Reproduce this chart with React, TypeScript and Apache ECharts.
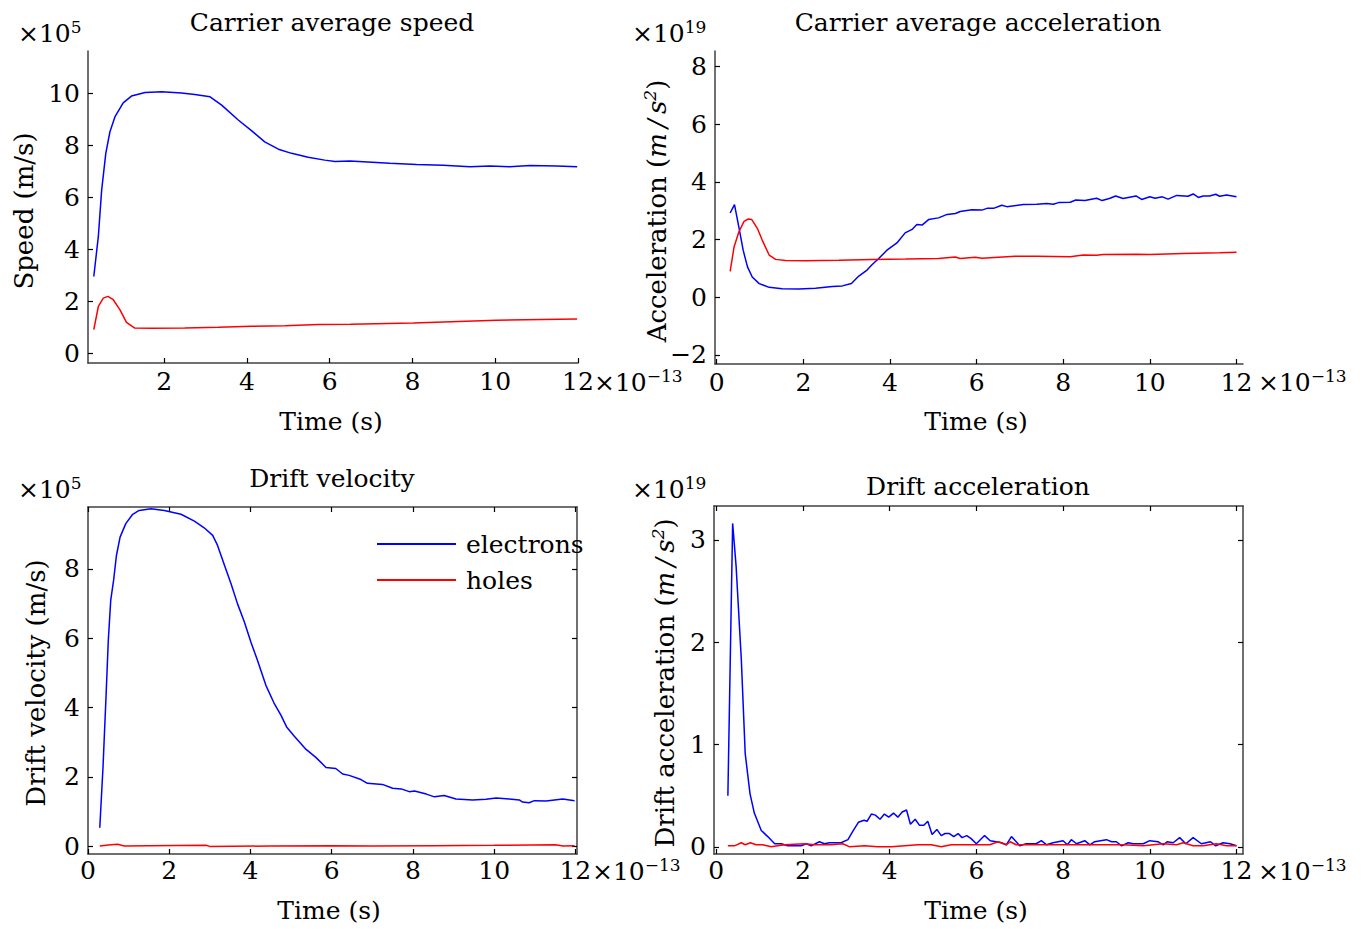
import React, { useEffect, useRef } from "react";
import * as echarts from "echarts";

// ---- Data (time in units of 1e-13 s) ----
const speedElecT = [0.30, 0.41, 0.49, 0.59, 0.69, 0.81, 1.01, 1.21, 1.54, 1.94, 2.42, 2.74, 3.11, 3.39, 3.79, 4.11, 4.43, 4.76, 5.08, 5.48, 5.88, 6.13, 6.49, 7.45, 8.10, 8.74, 9.39, 9.87, 10.35, 10.84, 11.48, 11.98];
const speedElecV = [2.96, 4.50, 6.28, 7.69, 8.52, 9.09, 9.63, 9.89, 10.03, 10.06, 10.01, 9.95, 9.86, 9.54, 8.97, 8.56, 8.13, 7.85, 7.69, 7.54, 7.43, 7.38, 7.40, 7.31, 7.26, 7.23, 7.18, 7.20, 7.18, 7.22, 7.20, 7.18];
const speedHoleT = [0.30, 0.41, 0.53, 0.64, 0.77, 0.93, 1.09, 1.29, 1.70, 2.50, 3.31, 4.11, 4.92, 5.72, 6.50, 8.02, 10.03, 11.98];
const speedHoleV = [0.92, 1.81, 2.13, 2.20, 2.07, 1.69, 1.20, 0.98, 0.97, 0.98, 1.01, 1.05, 1.07, 1.12, 1.13, 1.18, 1.28, 1.33];

const accElecT = [0.31, 0.41, 0.51, 0.61, 0.71, 0.82, 0.98, 1.21, 1.51, 1.90, 2.28, 2.67, 2.90, 3.11, 3.28, 3.47, 3.59, 3.74, 3.93, 4.16, 4.35, 4.51, 4.62, 4.74, 4.89, 5.12, 5.32, 5.51, 5.62, 5.89, 6.12, 6.24, 6.39, 6.58, 6.70, 7.08, 7.39, 7.62, 7.77, 7.89, 8.16, 8.29, 8.50, 8.77, 8.90, 9.08, 9.21, 9.38, 9.68, 9.81, 10.00, 10.12, 10.29, 10.42, 10.62, 10.88, 11.00, 11.12, 11.23, 11.38, 11.52, 11.61, 11.77, 12.00];
const accElecV = [2.92, 3.21, 2.44, 1.63, 1.05, 0.70, 0.47, 0.34, 0.29, 0.28, 0.31, 0.37, 0.39, 0.47, 0.73, 0.94, 1.13, 1.34, 1.63, 1.88, 2.23, 2.35, 2.52, 2.50, 2.69, 2.75, 2.87, 2.90, 2.97, 3.03, 3.02, 3.08, 3.08, 3.19, 3.14, 3.21, 3.22, 3.25, 3.22, 3.28, 3.29, 3.37, 3.35, 3.43, 3.35, 3.43, 3.51, 3.42, 3.51, 3.39, 3.48, 3.43, 3.48, 3.40, 3.53, 3.50, 3.58, 3.46, 3.51, 3.51, 3.57, 3.50, 3.54, 3.48];
const accHoleT = [0.31, 0.40, 0.51, 0.63, 0.73, 0.81, 0.94, 1.05, 1.21, 1.36, 1.59, 2.05, 2.82, 3.59, 4.36, 5.12, 5.51, 5.62, 5.97, 6.12, 6.89, 7.39, 8.16, 8.46, 8.77, 8.92, 9.69, 10.00, 10.77, 11.61, 12.00];
const accHoleV = [0.89, 1.74, 2.26, 2.63, 2.71, 2.69, 2.38, 1.98, 1.46, 1.31, 1.27, 1.26, 1.28, 1.31, 1.32, 1.34, 1.39, 1.34, 1.38, 1.35, 1.42, 1.42, 1.40, 1.46, 1.45, 1.48, 1.49, 1.48, 1.51, 1.54, 1.56];

const dvElecT = [0.29, 0.37, 0.44, 0.50, 0.56, 0.63, 0.70, 0.79, 0.93, 1.10, 1.26, 1.55, 1.88, 2.29, 2.62, 2.86, 3.07, 3.19, 3.36, 3.52, 3.68, 3.85, 4.01, 4.17, 4.38, 4.58, 4.75, 4.89, 5.08, 5.37, 5.61, 5.86, 6.10, 6.27, 6.43, 6.72, 6.88, 7.25, 7.50, 7.71, 7.91, 8.04, 8.33, 8.53, 8.77, 9.06, 9.47, 9.80, 10.05, 10.37, 10.62, 10.70, 10.86, 10.99, 11.28, 11.69, 11.98];
const dvElecV = [0.53, 2.29, 4.21, 5.94, 7.10, 7.67, 8.39, 8.92, 9.31, 9.58, 9.69, 9.74, 9.69, 9.58, 9.38, 9.19, 8.97, 8.68, 8.11, 7.58, 7.00, 6.47, 5.89, 5.37, 4.64, 4.13, 3.78, 3.44, 3.17, 2.79, 2.56, 2.27, 2.24, 2.08, 2.04, 1.92, 1.81, 1.78, 1.67, 1.65, 1.57, 1.59, 1.50, 1.42, 1.46, 1.36, 1.33, 1.35, 1.39, 1.36, 1.33, 1.27, 1.25, 1.31, 1.30, 1.36, 1.31];
const dvHoleT = [0.29, 0.50, 0.73, 0.89, 1.50, 2.90, 3.00, 4.50, 6.00, 7.00, 8.50, 10.00, 11.50, 11.70, 11.98];
const dvHoleV = [0.00, 0.03, 0.05, 0.00, 0.01, 0.02, -0.01, 0.00, 0.01, 0.00, 0.01, 0.02, 0.04, 0.00, 0.01];

const daElecT = [0.27, 0.38, 0.46, 0.58, 0.67, 0.78, 0.88, 1.04, 1.19, 1.35, 1.50, 1.65, 1.96, 2.08, 2.19, 2.38, 2.50, 2.61, 2.88, 3.04, 3.15, 3.28, 3.41, 3.48, 3.58, 3.67, 3.78, 3.88, 3.98, 4.09, 4.19, 4.29, 4.39, 4.48, 4.59, 4.69, 4.79, 4.88, 4.98, 5.09, 5.19, 5.28, 5.38, 5.48, 5.58, 5.67, 5.78, 5.88, 6.00, 6.19, 6.32, 6.46, 6.58, 6.69, 6.81, 6.92, 7.00, 7.15, 7.38, 7.50, 7.62, 7.77, 8.00, 8.10, 8.19, 8.31, 8.50, 8.62, 8.73, 9.00, 9.12, 9.23, 9.35, 9.50, 9.62, 9.85, 10.00, 10.19, 10.31, 10.40, 10.54, 10.69, 10.83, 11.00, 11.19, 11.40, 11.52, 11.69, 11.85, 12.00];
const daElecV = [0.50, 3.16, 2.74, 1.83, 0.91, 0.52, 0.33, 0.16, 0.10, 0.03, 0.03, 0.01, 0.01, 0.03, 0.01, 0.05, 0.03, 0.04, 0.04, 0.07, 0.15, 0.24, 0.26, 0.25, 0.32, 0.31, 0.27, 0.32, 0.29, 0.33, 0.29, 0.34, 0.36, 0.22, 0.27, 0.21, 0.21, 0.25, 0.12, 0.17, 0.11, 0.13, 0.13, 0.10, 0.13, 0.09, 0.11, 0.08, 0.03, 0.11, 0.06, 0.05, 0.04, 0.02, 0.10, 0.05, 0.01, 0.03, 0.03, 0.06, 0.02, 0.04, 0.06, 0.02, 0.07, 0.03, 0.06, 0.02, 0.05, 0.07, 0.05, 0.05, 0.01, 0.04, 0.03, 0.03, 0.06, 0.05, 0.02, 0.05, 0.04, 0.09, 0.03, 0.09, 0.03, 0.05, 0.01, 0.04, 0.03, 0.01];
const daHoleT = [0.27, 0.42, 0.58, 0.67, 0.79, 0.92, 1.07, 1.27, 1.42, 1.58, 2.04, 2.27, 2.65, 2.92, 3.08, 3.42, 3.73, 4.04, 4.35, 4.65, 4.96, 5.19, 5.42, 5.73, 6.00, 6.31, 6.50, 6.69, 6.78, 6.92, 7.38, 7.85, 8.31, 8.62, 9.08, 9.38, 9.85, 10.31, 10.62, 10.77, 11.00, 11.23, 11.54, 11.77, 12.00];
const daHoleV = [0.01, 0.01, 0.04, 0.02, 0.04, 0.02, 0.02, 0.00, 0.01, 0.02, 0.03, 0.02, 0.02, 0.03, 0.00, 0.01, 0.00, 0.00, 0.01, 0.02, 0.02, 0.00, 0.02, 0.02, 0.02, 0.02, 0.05, 0.02, 0.05, 0.02, 0.02, 0.02, 0.02, 0.02, 0.02, 0.02, 0.01, 0.03, 0.02, 0.04, 0.01, 0.01, 0.03, 0.01, 0.01];

const seriesNames = ["electrons", "holes"];
const titles = ["Carrier average speed", "Carrier average acceleration", "Drift velocity", "Drift acceleration"];

const timeTicksA = [2, 4, 6, 8, 10, 12];
const timeTicksB = [0, 2, 4, 6, 8, 10, 12];
const speedTicks = [0, 2, 4, 6, 8, 10];
const accelTicks = [-2, 0, 2, 4, 6, 8];
const driftVelTicks = [0, 2, 4, 6, 8];
const driftAccTicks = [0, 1, 2, 3];

const FONT = "DejaVu Serif";
const FS = 25;
const FONT_CSS = `${FS}px "${FONT}"`;
const NAME_CSS = `26px "${FONT}"`;
const SUP_CSS = `17px "${FONT}"`;
const BLUE = "#0000ff";
const RED = "#ff0000";
const AXIS_COLOR = "#404040";

const zip = (t: number[], v: number[]) => t.map((x, i) => [x, v[i]]);
const fmt = (v: number) => String(v).replace("-", "\u2212");

function xAxis(gridIndex: number, min: number, max: number, ticks: number[], margin: number, position = "bottom", labels = true) {
  return {
    type: "value", gridIndex, min, max, position,
    axisLine: { show: true, onZero: false, lineStyle: { color: AXIS_COLOR, width: 1.5 } },
    axisTick: { show: true, inside: true, length: 5, customValues: ticks, lineStyle: { color: "#000", width: 1.2 } },
    axisLabel: { show: labels, customValues: ticks, margin, fontFamily: FONT, fontSize: FS, color: "#000", formatter: fmt },
    splitLine: { show: false },
  };
}
function yAxis(gridIndex: number, min: number, max: number, ticks: number[], margin: number, position = "left", labels = true) {
  return {
    type: "value", gridIndex, min, max, position,
    axisLine: { show: true, onZero: false, lineStyle: { color: AXIS_COLOR, width: 1.5 } },
    axisTick: { show: true, inside: true, length: 5, customValues: ticks, lineStyle: { color: "#000", width: 1.2 } },
    axisLabel: { show: labels, customValues: ticks, margin, fontFamily: FONT, fontSize: FS, color: "#000", formatter: fmt },
    splitLine: { show: false },
  };
}
function line(name: string, data: number[][], color: string, xi: number, yi: number) {
  return {
    type: "line", name, data, xAxisIndex: xi, yAxisIndex: yi, showSymbol: false, symbol: "none",
    lineStyle: { color, width: 1.5 }, itemStyle: { color }, smooth: false,
  };
}
const RICH = {
  n: { font: FONT_CSS, fill: "#000", lineHeight: 30 },
  m: { font: NAME_CSS, fill: "#000", lineHeight: 32 },
  i: { font: `italic ${NAME_CSS}`, fill: "#000", lineHeight: 32 },
  s: { font: SUP_CSS, fill: "#000", lineHeight: 30, verticalAlign: "top" },
  si: { font: `italic ${SUP_CSS}`, fill: "#000", lineHeight: 32, verticalAlign: "top" },
};
function txt(x: number, y: number, text: string, align = "center", rotation = 0) {
  return {
    type: "text", x, y, rotation,
    style: { text, font: FONT_CSS, fill: "#000", align, verticalAlign: "middle", rich: RICH },
  };
}
const expo = (p: string) => `{n|\u00d710}{s|${p}}`;

export default function App() {
  const ref = useRef<HTMLDivElement>(null);
  useEffect(() => {
    if (!ref.current) return;
    const chart = echarts.init(ref.current, null, { renderer: "svg" });
    const option = {
      animation: false,
      backgroundColor: "#fff",
      grid: [
        { left: 88, top: 51, width: 490, height: 312 },
        { left: 715, top: 51, width: 528, height: 313 },
        { left: 88, top: 507, width: 489, height: 347 },
        { left: 714, top: 506, width: 529, height: 348 },
      ],
      xAxis: [
        xAxis(0, 0.16, 12, timeTicksA, 6),
        xAxis(1, -0.04, 12.15, timeTicksB, 6),
        xAxis(2, 0, 12.04, timeTicksB, 4),
        xAxis(3, -0.05, 12.15, timeTicksB, 4),
        xAxis(2, 0, 12.04, timeTicksB, 4, "top", false),
        xAxis(3, -0.05, 12.15, timeTicksB, 4, "top", false),
      ],
      yAxis: [
        yAxis(0, -0.36, 11.62, speedTicks, 8),
        yAxis(1, -2.32, 8.54, accelTicks, 8),
        yAxis(2, -0.23, 9.79, driftVelTicks, 8),
        yAxis(3, -0.07, 3.33, driftAccTicks, 8),
        yAxis(2, -0.23, 9.79, driftVelTicks, 8, "right", false),
        yAxis(3, -0.07, 3.33, driftAccTicks, 8, "right", false),
      ],
      legend: {
        data: seriesNames,
        left: 377, top: 529, orient: "vertical", padding: 0,
        itemWidth: 79, itemHeight: 2, itemGap: 6, icon: "rect",
        selectedMode: false,
        textStyle: { fontFamily: FONT, fontSize: FS, color: "#000", lineHeight: 30, padding: [0, 0, 0, 5] },
      },
      series: [
        line(seriesNames[0], zip(speedElecT, speedElecV), BLUE, 0, 0),
        line(seriesNames[1], zip(speedHoleT, speedHoleV), RED, 0, 0),
        line(seriesNames[0], zip(accElecT, accElecV), BLUE, 1, 1),
        line(seriesNames[1], zip(accHoleT, accHoleV), RED, 1, 1),
        line(seriesNames[0], zip(dvElecT, dvElecV), BLUE, 2, 2),
        line(seriesNames[1], zip(dvHoleT, dvHoleV), RED, 2, 2),
        line(seriesNames[0], zip(daElecT, daElecV), BLUE, 3, 3),
        line(seriesNames[1], zip(daHoleT, daHoleV), RED, 3, 3),
      ],
      graphic: [
        txt(332, 22, titles[0]),
        txt(978, 22, titles[1]),
        txt(332, 478, titles[2]),
        txt(978, 486, titles[3]),
        txt(18, 33, expo("5"), "left"),
        txt(632, 33, expo("19"), "left"),
        txt(18, 489, expo("5"), "left"),
        txt(632, 489, expo("19"), "left"),
        txt(594, 382, expo("\u221213"), "left"),
        txt(1258, 382, expo("\u221213"), "left"),
        txt(592, 871, expo("\u221213"), "left"),
        txt(1258, 871, expo("\u221213"), "left"),
        txt(331, 421, "Time (s)"),
        txt(976, 421, "Time (s)"),
        txt(329, 910, "Time (s)"),
        txt(976, 910, "Time (s)"),
        txt(24, 211, "{m|Speed (m/s)}", "center", Math.PI / 2),
        txt(657, 211, "{m|Acceleration (}{i|m\u2009/\u2009s}{si|2}{m|)}", "center", Math.PI / 2),
        txt(36, 683, "{m|Drift velocity (m/s)}", "center", Math.PI / 2),
        txt(665, 683, "{m|Drift acceleration (}{i|m\u2009/\u2009s}{si|2}{m|)}", "center", Math.PI / 2),
      ],
    };
    chart.setOption(option as any);
    return () => chart.dispose();
  }, []);
  return <div ref={ref} style={{ position: "fixed", left: 0, top: 0, width: 1368, height: 929, background: "#fff" }} />;
}
